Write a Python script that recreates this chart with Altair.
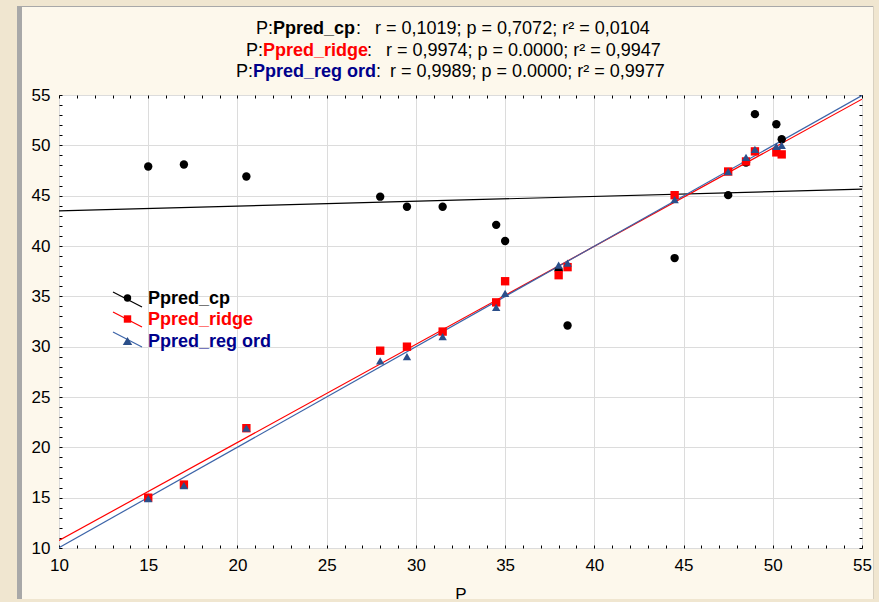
import altair as alt
import pandas as pd

# Observed P and the three predicted series
P = [15, 17, 20.5, 28, 29.5, 31.5, 34.5, 35, 38, 38.5, 44.5, 47.5, 48.5, 49, 50.2, 50.5]
ppred_cp = [47.9, 48.1, 46.9, 44.9, 43.9, 43.9, 42.1, 40.5, 37.6, 32.1, 38.8, 45.05, 48.3, 53.1, 52.1, 50.6]
ppred_ridge = [15.0, 16.3, 21.9, 29.6, 30.0, 31.5, 34.4, 36.5, 37.1, 37.9, 45.05, 47.4, 48.4, 49.4, 49.3, 49.1]
ppred_reg = [14.9, 16.2, 21.9, 28.6, 29.0, 31.0, 33.9, 35.3, 38.1, 38.3, 44.6, 47.4, 48.8, 49.6, 49.9, 50.0]

series = ["Ppred_cp", "Ppred_ridge", "Ppred_reg ord"]
stats = [
    "r = 0,1019; p = 0,7072; r\u00b2 = 0,0104",
    "r = 0,9974; p = 0.0000; r\u00b2 = 0,9947",
    "r = 0,9989; p = 0.0000; r\u00b2 = 0,9977",
]
axis_ticks = list(range(10, 56, 5))
minor_ticks = list(range(10, 56))

marker_colors = ["#000000", "#ff0000", "#2b4f8a"]
line_colors = ["#000000", "#ff0000", "#3c64a8"]
text_colors = ["#000000", "#ff0000", "#00008b"]
shapes = ["circle", "square", "triangle-up"]
sizes = [70, 70, 150]

FONT = "Liberation Sans"
WINDOW = "#f0e6d0"
FRAME = "#a8a8a8"

rows = []
for name, vals in zip(series, [ppred_cp, ppred_ridge, ppred_reg]):
    for p, v in zip(P, vals):
        rows.append({"P": p, "value": v, "series": name})
df = pd.DataFrame(rows)

xs = alt.Scale(domain=[10, 55], nice=False, zero=False)
ys = alt.Scale(domain=[10, 55], nice=False, zero=False)

x_main = alt.Axis(values=axis_ticks, grid=True, domain=False, ticks=False, labelFlush=False,
                  labelPadding=9, labelFont=FONT, labelFontSize=17, labelColor="black",
                  title="P", titleFont=FONT, titleFontSize=17, titleFontWeight="normal",
                  titleColor="black", titlePadding=13, orient="bottom")
y_main = alt.Axis(values=axis_ticks, grid=True, domain=False, ticks=False, labelFlush=False,
                  labelPadding=9, labelFont=FONT, labelFontSize=17, labelColor="black",
                  title=None, orient="left")

points = alt.Chart(df).mark_point(filled=True, opacity=1).encode(
    x=alt.X("P:Q", scale=xs, axis=x_main),
    y=alt.Y("value:Q", scale=ys, axis=y_main),
    color=alt.Color("series:N", scale=alt.Scale(domain=series, range=marker_colors), legend=None),
    shape=alt.Shape("series:N", scale=alt.Scale(domain=series, range=shapes), legend=None),
    size=alt.Size("series:N", scale=alt.Scale(domain=series, range=sizes), legend=None),
)

fits = alt.Chart(df).transform_regression(
    "P", "value", groupby=["series"], extent=[10, 55]
).mark_line(strokeWidth=1.2, clip=True).encode(
    x=alt.X("P:Q", scale=xs, axis=None),
    y=alt.Y("value:Q", scale=ys, axis=None),
    stroke=alt.Stroke("series:N", scale=alt.Scale(domain=series, range=line_colors), legend=None),
)


def tick_axis(orient):
    return alt.Axis(orient=orient, values=minor_ticks, labels=False, domain=False,
                    grid=False, ticks=True, tickSize=3, offset=-3, tickColor="black",
                    tickWidth=1, title=None)


ticks_lb = alt.Chart(df).mark_point(opacity=0).encode(
    x=alt.X("P:Q", scale=xs, axis=tick_axis("bottom")),
    y=alt.Y("value:Q", scale=ys, axis=tick_axis("left")),
)
ticks_tr = alt.Chart(df).mark_point(opacity=0).encode(
    x=alt.X("P:Q", scale=xs, axis=tick_axis("top")),
    y=alt.Y("value:Q", scale=ys, axis=tick_axis("right")),
)

one = pd.DataFrame({"k": [0]})


def label(text, x, y, color="black", bold=False, align="left", size=18):
    return alt.Chart(one).mark_text(
        text=text, align=align, baseline="alphabetic", font=FONT, fontSize=size,
        fontWeight="bold" if bold else "normal", color=color,
    ).encode(x=alt.value(x), y=alt.value(y))


def band(x, x2, y, y2, color):
    return alt.Chart(one).mark_rect(color=color).encode(
        x=alt.value(x), x2=alt.value(x2), y=alt.value(y), y2=alt.value(y2))


# Window frame around the graph panel (outside the plot area)
frame = [
    band(-59, -42, -95, 507, WINDOW),
    band(-59, 820, -95, -89, WINDOW),
    band(815, 820, -95, 507, WINDOW),
    band(-59, 820, 504, 507, WINDOW),
    band(-42, -37, -89, 504, FRAME),
    band(-42, 815, -89, -88, FRAME),
    band(814, 815, -89, 504, "#d8d0c0"),
]

# Header: one line per series, name in bold and its own colour
header_layout = [  # (name start, colon x, stats x, baseline)
    (214, 297, 316, -61),
    (204, 308, 327, -39),
    (194, 317, 331, -18),
]
header = []
for name, st, col, (nx, cx, sx, by) in zip(series, stats, text_colors, header_layout):
    header.append(label("P:", nx, by, align="right"))
    header.append(label(name, nx, by, color=col, bold=True))
    header.append(label(":", cx, by))
    header.append(label(st, sx, by))

# Legend inside the plot: slanted line sample with its marker, then the name
legend_rows = [(197, 212, 203), (217, 232, 224), (237, 252, 246)]
legend_sizes = [55, 55, 90]
legend = []
for name, mc, lc, tc, shp, sz, (ya, yb, ym) in zip(series, marker_colors, line_colors,
                                                   text_colors, shapes, legend_sizes, legend_rows):
    legend.append(alt.Chart(one).mark_rule(color=lc, strokeWidth=1.2).encode(
        x=alt.value(54), x2=alt.value(83), y=alt.value(ya), y2=alt.value(yb)))
    legend.append(alt.Chart(one).mark_point(shape=shp, filled=True, opacity=1, color=mc, size=sz).encode(
        x=alt.value(68.5), y=alt.value(ym)))
    legend.append(label(name, 89, ym + 6, color=tc, bold=True))

chart = alt.layer(
    *frame, fits, points, ticks_lb, ticks_tr, *header, *legend
).resolve_axis(
    x="independent", y="independent"
).properties(
    width=803, height=453,
    padding={"left": 59, "top": 95, "right": 17, "bottom": 54},
    autosize=alt.AutoSizeParams(type="none"),
    background="#fdf8ec",
).configure_view(
    stroke="black", strokeWidth=1, fill="white"
).configure_axis(
    gridColor="#dcdcdc", gridWidth=1
)

chart.save("out.html", embed_options={"renderer": "svg", "actions": False})
